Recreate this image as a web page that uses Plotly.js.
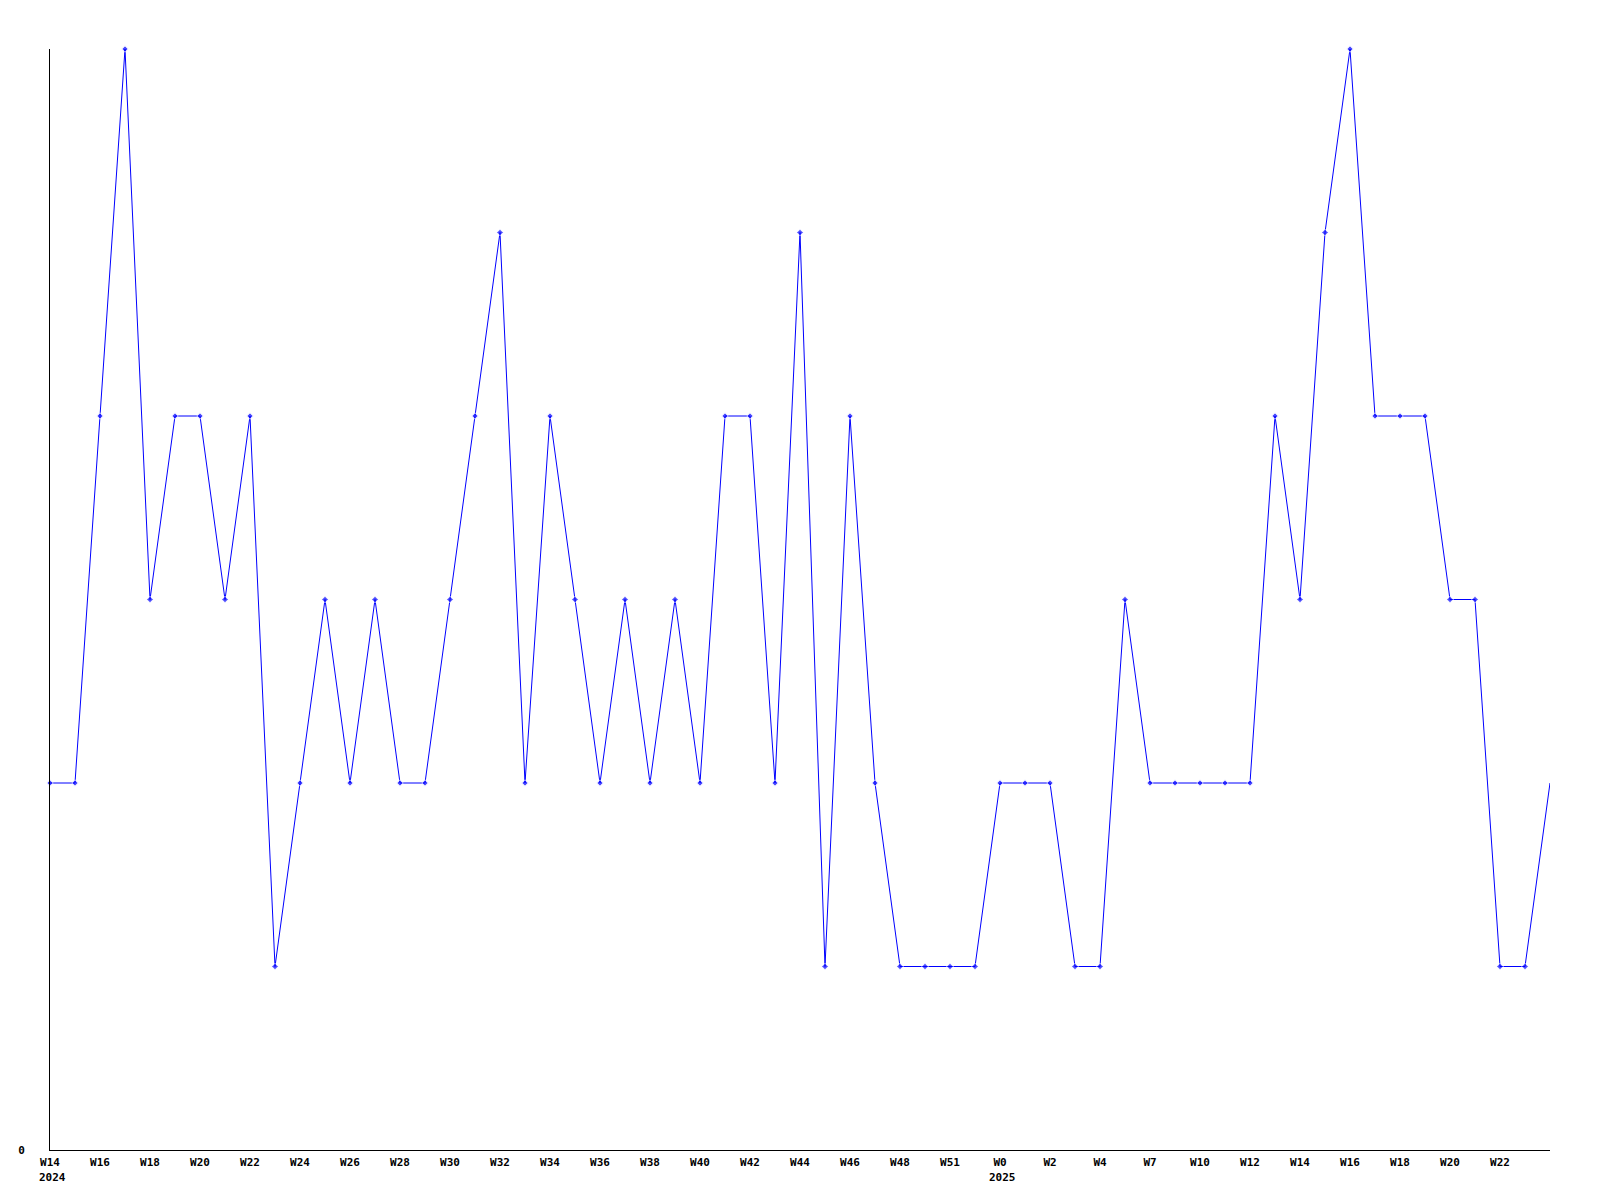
<!DOCTYPE html>
<html>
<head>
<meta charset="utf-8">
<script src="https://cdn.plot.ly/plotly-3.0.1.min.js"></script>
<style>html,body{margin:0;padding:0;background:#fff;}#chart{width:1600px;height:1200px;}</style>
</head>
<body>
<div id="chart"></div>
<script>
// Weekly values, from 2024 W14 onward
const values = [2,2,4,6,3,4,4,3,4,1,
                2,3,2,3,2,2,3,4,5,2,
                4,3,2,3,2,3,2,4,4,2,
                5,1,4,2,1,1,1,1,2,2,
                2,1,1,3,2,2,2,2,2,4,
                3,5,6,4,4,4,3,3,1,1,
                2];
// Tick labels shown every second point
const tickLabels = ["W14","W16","W18","W20","W22","W24","W26","W28","W30","W32",
                    "W34","W36","W38","W40","W42","W44","W46","W48","W51","W0",
                    "W2","W4","W7","W10","W12","W14","W16","W18","W20","W22"];
// Year labels and the point index where each year starts
const years = ["2024", "2025"];
const yearStartIndex = [0, 38];

const xs = values.map((v, i) => i);
const tickPositions = tickLabels.map((t, i) => i * 2);
const sizes = values.map((v, i) => i === values.length - 1 ? 0 : 5);

const font = {family: '"DejaVu Sans Mono", monospace', size: 11, color: '#000', weight: 'bold'};

const annotations = years.map((yr, k) => ({
  text: yr,
  x: yearStartIndex[k], xref: 'x',
  y: 0, yref: 'paper',
  xanchor: 'left', yanchor: 'middle',
  xshift: -13,
  yshift: -27,
  showarrow: false,
  font: font
}));

Plotly.newPlot('chart', [{
  x: xs,
  y: values,
  type: 'scatter',
  mode: 'lines+markers',
  line: {color: '#0000ff', width: 1},
  marker: {color: '#0000ff', symbol: 'diamond', size: sizes},
  cliponaxis: false,
  hoverinfo: 'none'
}], {
  width: 1600,
  height: 1200,
  margin: {l: 50, r: 50, t: 49, b: 50, pad: 0},
  paper_bgcolor: '#fff',
  plot_bgcolor: '#fff',
  showlegend: false,
  font: font,
  annotations: annotations,
  xaxis: {
    range: [0, 60],
    tickvals: tickPositions,
    ticktext: tickLabels,
    tickangle: 0,
    ticks: '',
    showgrid: false,
    zeroline: false,
    showline: true,
    linecolor: '#000',
    linewidth: 1,
    tickfont: font,
    ticklabelstandoff: 2
  },
  yaxis: {
    range: [0, 6],
    tickvals: [0],
    ticktext: ['0'],
    ticks: '',
    showgrid: false,
    zeroline: false,
    showline: true,
    linecolor: '#000',
    linewidth: 1,
    tickfont: font,
    ticklabelstandoff: 22
  }
}, {staticPlot: true});
</script>
</body>
</html>
